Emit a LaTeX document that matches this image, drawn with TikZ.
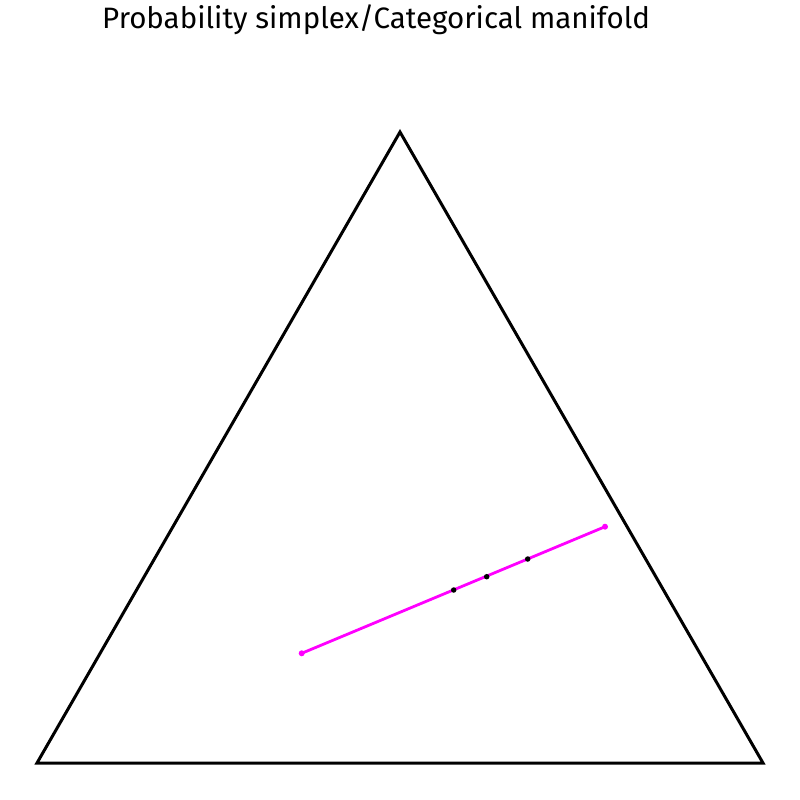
\documentclass[tikz,border=0pt]{standalone}
\usepackage{fontspec}
\setmainfont{Fira Sans}
\definecolor{mag}{RGB}{255,0,255}
\begin{document}
\begin{tikzpicture}[x=1pt,y=-1pt,
  edge/.style={line width=3pt,line join=miter},
  seg/.style={line width=2.8pt,draw=mag},
  enddot/.style={circle,fill=mag,inner sep=0pt,minimum size=6pt},
  middot/.style={circle,fill=black,inner sep=0pt,minimum size=5.5pt},
  ttl/.style={font=\fontsize{29.5}{36}\selectfont,inner sep=0pt,anchor=base west}]
\useasboundingbox (0,0) rectangle (800,800);
\node[ttl] (title) at (102,29) {Probability simplex/Categorical manifold};
\coordinate (A) at (37,763);
\coordinate (B) at (763,763);
\coordinate (C) at (400,132);
\draw[edge] (A) -- (B) -- (C) -- cycle;
\coordinate (P) at (301.7,653.3);
\coordinate (Q) at (605,526.7);
\draw[seg] (P) -- (Q);
\node[enddot] (p1) at (P) {};
\node[enddot] (p2) at (Q) {};
\node[middot] (m1) at (453.7,590) {};
\node[middot] (m2) at (486.7,576.7) {};
\node[middot] (m3) at (527.7,559) {};
\end{tikzpicture}
\end{document}
